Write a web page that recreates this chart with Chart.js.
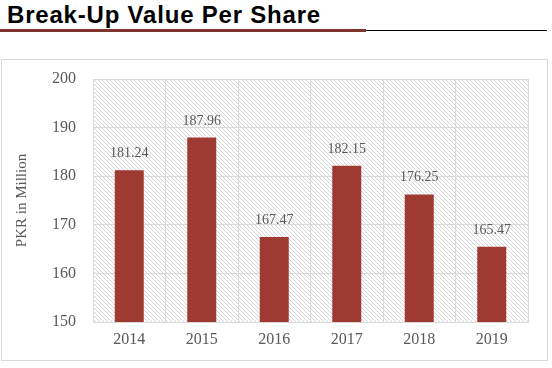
<!DOCTYPE html>
<html>
<head>
    <meta charset="utf-8">
    <script src="https://cdn.jsdelivr.net/npm/chart.js"></script>
    <style>
        * {
            margin: 0;
            padding: 0;
        }
        body {
            width: 552px;
            height: 368px;
            position: relative;
            background: #fff;
            overflow: hidden;
        }
        .title {
            position: absolute;
            left: 7px;
            top: 1px;
            font-family: "Liberation Sans", Arial, sans-serif;
            font-weight: bold;
            font-size: 24px;
            letter-spacing: 0.8px;
            color: #000;
        }
        .redLine {
            position: absolute;
            left: 0;
            top: 29px;
            width: 366px;
            height: 3px;
            background: #7f342e;
        }
        .blackLine {
            position: absolute;
            left: 366px;
            top: 30px;
            width: 181px;
            height: 1px;
            background: #000;
        }
        .chartBox {
            position: absolute;
            left: 1px;
            top: 59px;
            width: 545px;
            height: 300px;
            border: 1px solid #d9d9d9;
        }
    </style>
</head>
<body>
    <div class="title">Break-Up Value Per Share</div>
    <div class="redLine"></div>
    <div class="blackLine"></div>
    <div class="chartBox">
        <canvas id="chart" width="545" height="300"></canvas>
    </div>
<script>
    // data
    const years = ['2014', '2015', '2016', '2017', '2018', '2019'];
    const values = [181.24, 187.96, 167.47, 182.15, 176.25, 165.47];
    const yTicks = [150, 160, 170, 180, 190, 200];

    const barColor = '#9f3a33';
    const textColor = '#595959';
    const gridColor = '#d9d9d9';
    const serif = "'Liberation Serif', 'Times New Roman', serif";

    // diagonal hatch for the plot background
    const tile = document.createElement('canvas');
    tile.width = 4;
    tile.height = 4;
    const tctx = tile.getContext('2d');
    tctx.fillStyle = '#ffffff';
    tctx.fillRect(0, 0, 4, 4);
    tctx.fillStyle = '#d6d6d6';
    for (let i = 0; i < 4; i++) {
        tctx.fillRect(i, i, 1, 1);
    }

    const hatchPlugin = {
        id: 'hatch',
        beforeDraw(chart) {
            const a = chart.chartArea;
            const ctx = chart.ctx;
            ctx.save();
            ctx.fillStyle = ctx.createPattern(tile, 'repeat');
            ctx.fillRect(a.left, a.top, a.right - a.left, a.bottom - a.top);
            ctx.restore();
        }
    };

    const labelPlugin = {
        id: 'barLabels',
        afterDatasetsDraw(chart) {
            const ctx = chart.ctx;
            const meta = chart.getDatasetMeta(0);
            ctx.save();
            ctx.font = '14px ' + serif;
            ctx.fillStyle = textColor;
            ctx.textAlign = 'center';
            ctx.textBaseline = 'alphabetic';
            meta.data.forEach(function(bar, i) {
                ctx.fillText(values[i].toFixed(2), bar.x, bar.y - 13);
            });
            ctx.restore();
        }
    };

    const config = {
        type: 'bar',
        data: {
            labels: years,
            datasets: [{
                data: values,
                backgroundColor: barColor,
                borderWidth: 0,
                barPercentage: 0.4,
                categoryPercentage: 1.0
            }]
        },
        options: {
            responsive: false,
            animation: false,
            layout: {
                padding: { left: 0, right: 19, top: 19, bottom: 0 }
            },
            plugins: {
                legend: { display: false },
                tooltip: { enabled: false }
            },
            scales: {
                x: {
                    grid: {
                        color: gridColor,
                        drawTicks: false,
                        offset: true
                    },
                    border: { color: gridColor },
                    ticks: {
                        color: textColor,
                        font: { family: serif, size: 16 },
                        padding: 8
                    },
                    afterFit: function(s) { s.height = 38; }
                },
                y: {
                    min: 150,
                    max: 200,
                    afterBuildTicks: function(s) {
                        s.ticks = yTicks.map(function(v) { return { value: v }; });
                    },
                    grid: {
                        color: gridColor,
                        drawTicks: false
                    },
                    border: { color: gridColor },
                    ticks: {
                        color: textColor,
                        font: { family: serif, size: 16 },
                        padding: 17
                    },
                    title: {
                        display: true,
                        text: 'PKR in Million',
                        color: textColor,
                        font: { family: serif, size: 15 },
                        padding: { top: 11, bottom: 0 }
                    },
                    afterFit: function(s) {
                        s.width = 91;
                        s.paddingTop = 0;
                        s.paddingBottom = 0;
                    }
                }
            }
        },
        plugins: [hatchPlugin, labelPlugin]
    };

    const chart = new Chart(document.getElementById('chart'), config);
</script>
</body>
</html>
